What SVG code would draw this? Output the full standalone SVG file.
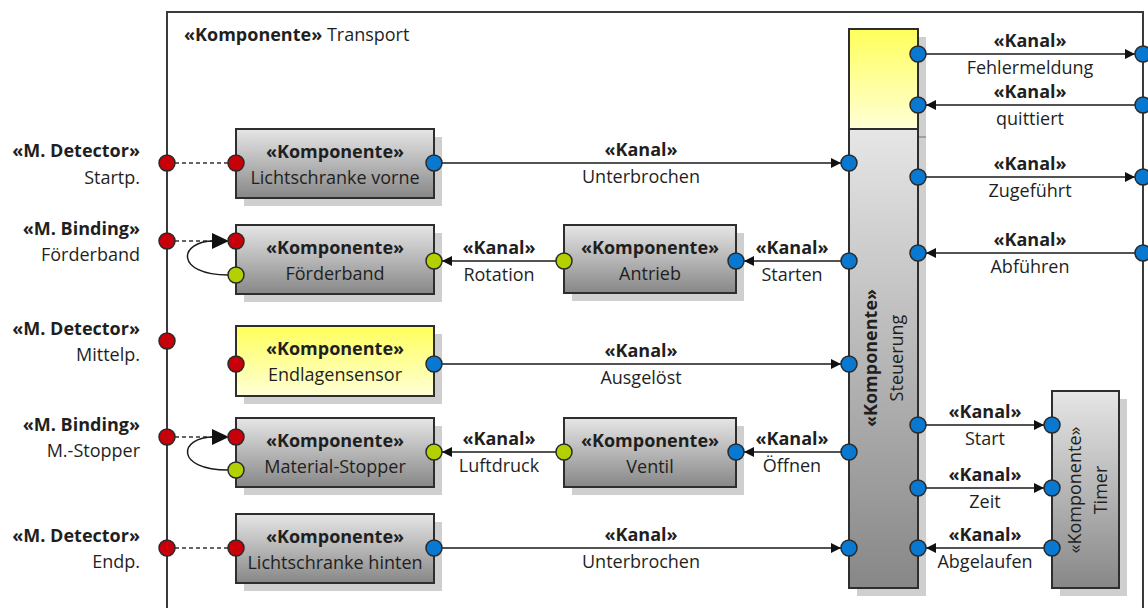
<svg xmlns="http://www.w3.org/2000/svg" width="1148" height="608" viewBox="0 0 1148 608">
  <defs>
    <linearGradient id="gGray" x1="0" y1="0" x2="0" y2="1">
      <stop offset="0" stop-color="#e6e6e6"/>
      <stop offset="1" stop-color="#878787"/>
    </linearGradient>
    <linearGradient id="gYellow" x1="0" y1="0" x2="0" y2="1">
      <stop offset="0" stop-color="#ffff5c"/>
      <stop offset="1" stop-color="#ffffd6"/>
    </linearGradient>
    <marker id="arr" markerUnits="userSpaceOnUse" viewBox="0 0 10 10" refX="10" refY="5" markerWidth="10" markerHeight="10" orient="auto">
      <path d="M0,0 L10,5 L0,10 z" fill="#111"/>
    </marker>
    <style>
      text { font-family: "Open Sans", "Noto Sans", "Liberation Sans", sans-serif; font-size: 18px; fill: #1f1f1f; }
      .b { font-weight: bold; }
      .c { text-anchor: middle; }
      .r { text-anchor: end; }
      .frame { fill: none; stroke: #3a3a3a; stroke-width: 2; }
      .box { fill: url(#gGray); stroke: #2e2e2e; stroke-width: 2; }
      .ybox { fill: url(#gYellow); stroke: #2e2e2e; stroke-width: 2; }
      .shadow { fill: #cfcfcf; }
      .wire { fill: none; stroke: #1a1a1a; stroke-width: 1.5; }
      .dash { fill: none; stroke: #333; stroke-width: 1.6; stroke-dasharray: 4 3; }
      .red { fill: #c8000a; stroke: #2a2a2a; stroke-width: 1.5; }
      .blue { fill: #0878d0; stroke: #2a2a2a; stroke-width: 1.5; }
      .green { fill: #b4d000; stroke: #2a2a2a; stroke-width: 1.5; }
    </style>
  </defs>

  <rect width="1148" height="608" fill="#ffffff"/>

  <!-- enclosing component -->
  <g id="transport">
    <path class="frame" d="M167,608 V12 H1143 V608"/>
    <text x="184" y="41"><tspan class="b">«Komponente»</tspan> Transport</text>
  </g>

  <!-- outer labels -->
  <g id="labels-left">
    <text class="b r" x="140" y="157">«M. Detector»</text>
    <text class="r" x="140" y="184">Startp.</text>
    <text class="b r" x="140" y="235">«M. Binding»</text>
    <text class="r" x="140" y="261">Förderband</text>
    <text class="b r" x="140" y="335">«M. Detector»</text>
    <text class="r" x="140" y="361">Mittelp.</text>
    <text class="b r" x="140" y="431">«M. Binding»</text>
    <text class="r" x="140" y="457">M.-Stopper</text>
    <text class="b r" x="140" y="542">«M. Detector»</text>
    <text class="r" x="140" y="568">Endp.</text>
  </g>

  <!-- shadows -->
  <g id="shadows">
    <rect class="shadow" x="244" y="137" width="198" height="69"/>
    <rect class="shadow" x="244" y="233" width="198" height="69"/>
    <rect class="shadow" x="244" y="334" width="198" height="70"/>
    <rect class="shadow" x="244" y="426" width="198" height="69"/>
    <rect class="shadow" x="244" y="522" width="198" height="69"/>
    <rect class="shadow" x="572" y="233" width="172" height="68"/>
    <rect class="shadow" x="572" y="426" width="172" height="69"/>
    <rect class="shadow" x="857" y="37" width="69" height="559"/>
    <line x1="918" y1="137" x2="926" y2="137" stroke="#a0a0a0" stroke-width="2"/>
    <rect class="shadow" x="1060" y="399" width="67" height="197"/>
  </g>

  <!-- connectors -->
  <g id="connectors">
    <!-- delegations to the enclosing ports -->
    <line class="dash" x1="175" y1="163" x2="228" y2="163"/>
    <line class="dash" x1="175" y1="241" x2="213" y2="241"/>
    <line class="dash" x1="175" y1="437" x2="213" y2="437"/>
    <line class="dash" x1="175" y1="548" x2="228" y2="548"/>
    <!-- binding loops -->
    <path class="wire" d="M228,275 C175,275 178,241 214,241"/>
    <path d="M212,233 L229,241 L212,249 z" fill="#111"/>
    <path class="wire" d="M228,470 C175,470 178,437 214,437"/>
    <path d="M212,429 L229,437 L212,445 z" fill="#111"/>

    <!-- channels -->
    <line class="wire" x1="434" y1="163" x2="841" y2="163" marker-end="url(#arr)"/>
    <line class="wire" x1="564" y1="261" x2="442" y2="261" marker-end="url(#arr)"/>
    <line class="wire" x1="849" y1="261" x2="744" y2="261" marker-end="url(#arr)"/>
    <line class="wire" x1="434" y1="364" x2="841" y2="364" marker-end="url(#arr)"/>
    <line class="wire" x1="564" y1="452" x2="442" y2="452" marker-end="url(#arr)"/>
    <line class="wire" x1="849" y1="452" x2="744" y2="452" marker-end="url(#arr)"/>
    <line class="wire" x1="434" y1="548" x2="841" y2="548" marker-end="url(#arr)"/>
    <line class="wire" x1="918" y1="54" x2="1135" y2="54" marker-end="url(#arr)"/>
    <line class="wire" x1="1143" y1="105" x2="926" y2="105" marker-end="url(#arr)"/>
    <line class="wire" x1="918" y1="177" x2="1135" y2="177" marker-end="url(#arr)"/>
    <line class="wire" x1="1143" y1="253" x2="926" y2="253" marker-end="url(#arr)"/>
    <line class="wire" x1="918" y1="425" x2="1044" y2="425" marker-end="url(#arr)"/>
    <line class="wire" x1="918" y1="488" x2="1044" y2="488" marker-end="url(#arr)"/>
    <line class="wire" x1="1052" y1="548" x2="926" y2="548" marker-end="url(#arr)"/>

    <!-- channel labels -->
    <text class="b c" x="641" y="156">«Kanal»</text>
    <text class="c" x="641" y="183">Unterbrochen</text>
    <text class="b c" x="499" y="254">«Kanal»</text>
    <text class="c" x="499" y="281">Rotation</text>
    <text class="b c" x="792" y="254">«Kanal»</text>
    <text class="c" x="792" y="281">Starten</text>
    <text class="b c" x="641" y="357">«Kanal»</text>
    <text class="c" x="641" y="384">Ausgelöst</text>
    <text class="b c" x="499" y="445">«Kanal»</text>
    <text class="c" x="499" y="472">Luftdruck</text>
    <text class="b c" x="792" y="445">«Kanal»</text>
    <text class="c" x="792" y="472">Öffnen</text>
    <text class="b c" x="641" y="541">«Kanal»</text>
    <text class="c" x="641" y="568">Unterbrochen</text>
    <text class="b c" x="1030" y="47">«Kanal»</text>
    <text class="c" x="1030" y="74">Fehlermeldung</text>
    <text class="b c" x="1030" y="98">«Kanal»</text>
    <text class="c" x="1030" y="125">quittiert</text>
    <text class="b c" x="1030" y="170">«Kanal»</text>
    <text class="c" x="1030" y="197">Zugeführt</text>
    <text class="b c" x="1030" y="246">«Kanal»</text>
    <text class="c" x="1030" y="273">Abführen</text>
    <text class="b c" x="985" y="418">«Kanal»</text>
    <text class="c" x="985" y="445">Start</text>
    <text class="b c" x="985" y="481">«Kanal»</text>
    <text class="c" x="985" y="508">Zeit</text>
    <text class="b c" x="985" y="541">«Kanal»</text>
    <text class="c" x="985" y="568">Abgelaufen</text>
  </g>

  <g id="lichtschranke-vorne">
    <rect class="box" x="236" y="129" width="198" height="69"/>
    <text class="b c" x="335" y="158">«Komponente»</text>
    <text class="c" x="335" y="184">Lichtschranke vorne</text>
    <circle class="red" cx="236" cy="163" r="8"/>
    <circle class="blue" cx="434" cy="163" r="8"/>
  </g>

  <g id="foerderband">
    <rect class="box" x="236" y="225" width="198" height="69"/>
    <text class="b c" x="335" y="254">«Komponente»</text>
    <text class="c" x="335" y="280">Förderband</text>
    <circle class="red" cx="236" cy="241" r="8"/>
    <circle class="green" cx="236" cy="275" r="8"/>
    <circle class="green" cx="434" cy="261" r="8"/>
  </g>

  <g id="antrieb">
    <rect class="box" x="564" y="225" width="172" height="68"/>
    <text class="b c" x="650" y="254">«Komponente»</text>
    <text class="c" x="650" y="280">Antrieb</text>
    <circle class="green" cx="564" cy="261" r="8"/>
    <circle class="blue" cx="736" cy="261" r="8"/>
  </g>

  <g id="endlagensensor">
    <rect class="ybox" x="236" y="326" width="198" height="70"/>
    <text class="b c" x="335" y="355">«Komponente»</text>
    <text class="c" x="335" y="381">Endlagensensor</text>
    <circle class="red" cx="236" cy="364" r="8"/>
    <circle class="blue" cx="434" cy="364" r="8"/>
  </g>

  <g id="material-stopper">
    <rect class="box" x="236" y="418" width="198" height="69"/>
    <text class="b c" x="335" y="447">«Komponente»</text>
    <text class="c" x="335" y="473">Material-Stopper</text>
    <circle class="red" cx="236" cy="437" r="8"/>
    <circle class="green" cx="236" cy="470" r="8"/>
    <circle class="green" cx="434" cy="452" r="8"/>
  </g>

  <g id="ventil">
    <rect class="box" x="564" y="418" width="172" height="69"/>
    <text class="b c" x="650" y="447">«Komponente»</text>
    <text class="c" x="650" y="473">Ventil</text>
    <circle class="green" cx="564" cy="452" r="8"/>
    <circle class="blue" cx="736" cy="452" r="8"/>
  </g>

  <g id="lichtschranke-hinten">
    <rect class="box" x="236" y="514" width="198" height="69"/>
    <text class="b c" x="335" y="543">«Komponente»</text>
    <text class="c" x="335" y="569">Lichtschranke hinten</text>
    <circle class="red" cx="236" cy="548" r="8"/>
    <circle class="blue" cx="434" cy="548" r="8"/>
  </g>

  <g id="steuerung">
    <rect class="ybox" x="849" y="29" width="69" height="100"/>
    <rect class="box" x="849" y="129" width="69" height="459"/>
    <text class="b c" transform="translate(877,358) rotate(-90)">«Komponente»</text>
    <text class="c" transform="translate(903,358) rotate(-90)">Steuerung</text>
    <circle class="blue" cx="849" cy="163" r="8"/>
    <circle class="blue" cx="849" cy="261" r="8"/>
    <circle class="blue" cx="849" cy="364" r="8"/>
    <circle class="blue" cx="849" cy="452" r="8"/>
    <circle class="blue" cx="849" cy="548" r="8"/>
    <circle class="blue" cx="918" cy="54" r="8"/>
    <circle class="blue" cx="918" cy="105" r="8"/>
    <circle class="blue" cx="918" cy="177" r="8"/>
    <circle class="blue" cx="918" cy="253" r="8"/>
    <circle class="blue" cx="918" cy="425" r="8"/>
    <circle class="blue" cx="918" cy="488" r="8"/>
    <circle class="blue" cx="918" cy="548" r="8"/>
  </g>

  <g id="timer">
    <rect class="box" x="1052" y="391" width="67" height="197"/>
    <text class="c" transform="translate(1081,490) rotate(-90)">«Komponente»</text>
    <text class="c" transform="translate(1107,490) rotate(-90)">Timer</text>
    <circle class="blue" cx="1052" cy="425" r="8"/>
    <circle class="blue" cx="1052" cy="488" r="8"/>
    <circle class="blue" cx="1052" cy="548" r="8"/>
  </g>

  <!-- ports of the enclosing component -->
  <g id="transport-ports">
    <circle class="red" cx="167" cy="163" r="8"/>
    <circle class="red" cx="167" cy="241" r="8"/>
    <circle class="red" cx="167" cy="341" r="8"/>
    <circle class="red" cx="167" cy="437" r="8"/>
    <circle class="red" cx="167" cy="548" r="8"/>
    <circle class="blue" cx="1143" cy="54" r="8"/>
    <circle class="blue" cx="1143" cy="105" r="8"/>
    <circle class="blue" cx="1143" cy="177" r="8"/>
    <circle class="blue" cx="1143" cy="253" r="8"/>
  </g>
</svg>
